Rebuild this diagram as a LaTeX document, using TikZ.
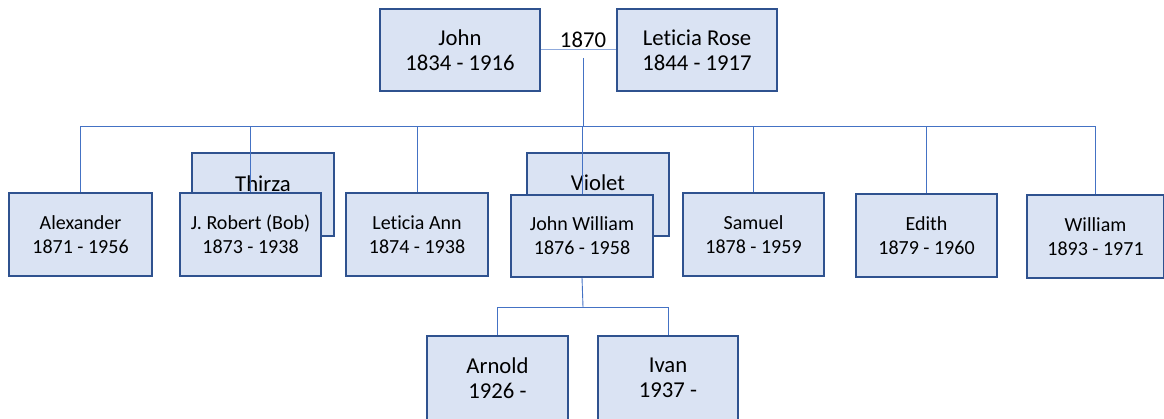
\documentclass[tikz,border=0pt]{standalone}
\usepackage{fontspec}
\setmainfont{Carlito}[Ligatures={NoCommon}]
\pgfdeclarelayer{back}
\pgfdeclarelayer{mid}
\pgfsetlayers{back,mid,main}
\definecolor{boxfill}{RGB}{218,227,243}
\definecolor{boxline}{RGB}{47,82,143}
\definecolor{conn}{RGB}{68,114,196}
\definecolor{connlight}{RGB}{143,170,220}
\begin{document}
\begin{tikzpicture}[x=1pt,y=-1pt,
  person/.style={draw=boxline, fill=boxfill, line width=1.2pt, inner sep=0pt, align=center,
    minimum width=142pt, minimum height=83pt},
  big/.style={font=\fontsize{22.7}{25}\selectfont},
  small/.style={font=\fontsize{20}{24}\selectfont},
  connline/.style={draw=conn, line width=0.9pt},
  marline/.style={draw=connlight, line width=1pt}]
\useasboundingbox (0,0) rectangle (1164,419);
% top couple
\node[person, big, minimum width=160pt, minimum height=82pt] (john) at (460,50) {John\\1834 - 1916};
\node[person, big, minimum width=160pt, minimum height=82pt] (rose) at (697,50) {Leticia Rose\\1844 - 1917};
\node[big, inner sep=0pt] (yr) at (583,40) {1870};
\coordinate (m) at (583,58);
\coordinate (bar) at (583,126);
% spouses behind
\begin{pgfonlayer}{back}
\node[person, big, label={[big, yshift=11pt]center:Thirza}] (thirza) at (263,194.5) {};
\node[person, big, label={[big, yshift=12pt]center:Violet}] (violet) at (598,194.5) {};
\end{pgfonlayer}
% children
\node[person, small, minimum width=143pt] (alex) at (80.5,234.5) {Alexander\\1871 - 1956};
\node[person, small, minimum width=141pt] (robert) at (250.5,234.5) {J. Robert (Bob)\\1873 - 1938};
\node[person, small] (lann) at (417,234.5) {Leticia Ann\\1874 - 1938};
\node[person, small, minimum height=82pt] (jw) at (582,236) {John William\\1876 - 1958};
\node[person, small, minimum width=141pt] (samuel) at (753.5,234.5) {Samuel\\1878 - 1959};
\node[person, small, minimum width=141pt] (edith) at (926.5,235.5) {Edith\\1879 - 1960};
\node[person, small, minimum width=137pt] (william) at (1095.5,236.5) {William\\1893 - 1971};
% grandchildren
\node[person, big, minimum width=141pt, minimum height=84pt] (arnold) at (497.5,378) {Arnold\\1926 -};
\node[person, big, minimum width=140pt, minimum height=84pt] (ivan) at (668,378) {Ivan\\1937 -};
\coordinate (kbar) at (583,307);
\begin{pgfonlayer}{mid}
\draw[marline] (john.east) -- (rose.west);
\draw[connline] (m) -- (bar);
\foreach \c in {alex,robert,lann,jw,samuel,edith,william}
  \draw[connline] (bar) -| (\c.north);
\draw[connline] (jw.south) -- (kbar);
\draw[connline] (kbar) -| (arnold.north);
\draw[connline] (kbar) -| (ivan.north);
\end{pgfonlayer}
\end{tikzpicture}
\end{document}
